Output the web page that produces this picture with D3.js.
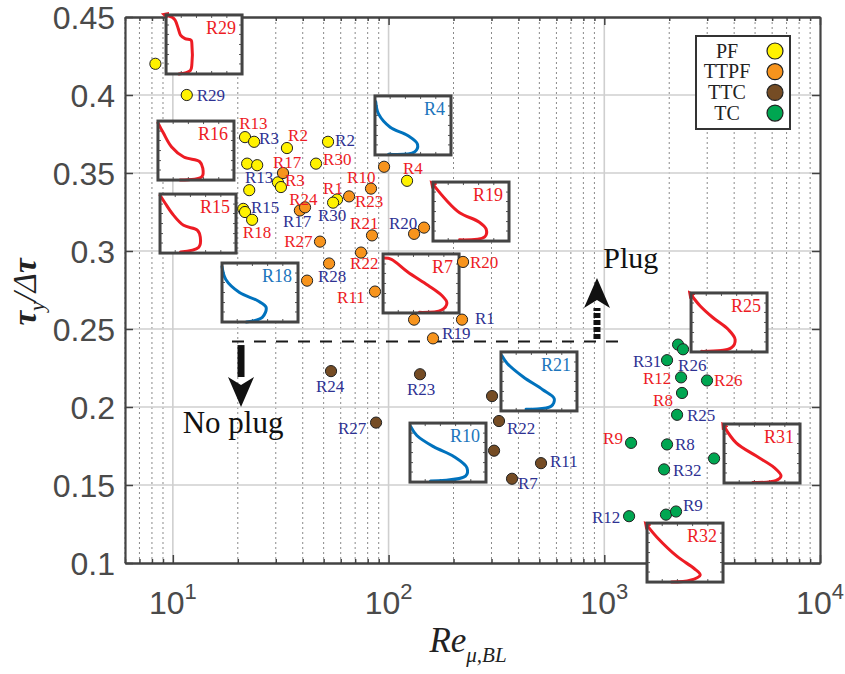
<!DOCTYPE html>
<html><head><meta charset="utf-8">
<script src="https://cdn.jsdelivr.net/npm/d3@7/dist/d3.min.js"></script>
<style>body{margin:0;background:#fff}svg{display:block}</style>
</head><body>
<svg id="chart" width="845" height="674"></svg>
<script>
// ---------------- data ----------------
const groupNames  = ["PF", "TTPF", "TTC", "TC"];
const groupColors = ["#fff200", "#f7941d", "#754c24", "#00a651"];

// Re_mu,BL and tau_y / delta-tau for each flow regime
const pfRe      = [8.3, 11.6, 21.6, 23.8, 33.8, 52.4, 22.1, 24.6, 46.1, 22.6, 30.7, 31.7, 57.7, 55.3, 121.8, 21.2, 21.6, 23.3];
const pfRatio   = [0.420, 0.400, 0.373, 0.370, 0.366, 0.370, 0.356, 0.355, 0.356, 0.339, 0.344, 0.341, 0.333, 0.331, 0.345, 0.327, 0.325, 0.320];
const ttpfRe    = [32.4, 38.8, 41.0, 48.1, 41.9, 53.0, 65.6, 82.9, 95.3, 83.8, 74.5, 86.5, 131.3, 146, 221.4, 131.3, 219, 160.7];
const ttpfRatio = [0.350, 0.326, 0.328, 0.306, 0.281, 0.292, 0.335, 0.340, 0.354, 0.310, 0.299, 0.274, 0.311, 0.315, 0.293, 0.256, 0.256, 0.244];
const ttcRe     = [54.1, 139.9, 87.5, 301.8, 325, 308.3, 509, 373.5];
const ttcRatio  = [0.223, 0.221, 0.190, 0.207, 0.191, 0.172, 0.164, 0.154];
const tcRe      = [2198, 2318, 1954, 2270, 2994, 2293, 2175, 1331, 1954, 3228, 1893, 1303, 1932, 2151];
const tcRatio   = [0.240, 0.237, 0.230, 0.219, 0.217, 0.209, 0.195, 0.177, 0.176, 0.167, 0.160, 0.130, 0.131, 0.133];

// run labels: text, colour key (r = red series, b = blue series), anchor (Re, ratio)
const labelText  = ["R29","R13","R3","R2","R2","R17","R30","R13","R3","R24","R1","R10","R4","R23","R15","R17","R30","R18","R27","R21","R20","R28","R22","R11","R20","R1","R19",
                    "R24","R23","R27","R22","R11","R7",
                    "R31","R26","R12","R26","R8","R25","R9","R8","R32","R12","R9"];
const labelColor = ["b","r","b","r","b","r","r","b","r","r","r","r","r","r","b","b","b","r","r","r","b","b","r","r","r","b","b",
                    "b","b","b","b","b","b",
                    "b","b","r","r","r","b","r","b","b","b","b"];
const labelRe    = [12.9, 20.3, 25.1, 34.2, 56.5, 29.1, 49.7, 21.6, 33.1, 34.6, 49.7, 64.2, 116.7, 69.9, 23.0, 32.4, 47.1, 21.1, 32.8, 66.3, 100.5, 47.1, 66.3, 57.7, 238.6, 251.6, 177,
                    46.1, 121.8, 58.3, 354.1, 560.4, 398.3,
                    1359, 2198, 1512, 3228, 1683, 2419, 987, 2128, 2084, 877.5, 2318];
const labelRatio = [0.400, 0.382, 0.372, 0.374, 0.371, 0.357, 0.359, 0.347, 0.345, 0.333, 0.340, 0.347, 0.353, 0.332, 0.328, 0.319, 0.323, 0.312, 0.306, 0.318, 0.318, 0.284, 0.292, 0.2705, 0.293, 0.257, 0.247,
                    0.213, 0.2115, 0.1865, 0.1865, 0.1654, 0.1513,
                    0.2295, 0.2269, 0.2186, 0.2173, 0.2045, 0.1949, 0.1801, 0.1763, 0.1596, 0.1295, 0.1372];

// velocity-profile insets: name, colour, top-left anchor (Re, ratio)
const insetNames = ["R29", "R16", "R15", "R18", "R4", "R19", "R7", "R21", "R10", "R25", "R31", "R32"];
const insetColor = ["r", "r", "r", "b", "b", "r", "r", "b", "b", "r", "r", "r"];
const insetRe    = [9.3, 8.53, 8.72, 16.9, 86.5, 160.7, 94.3, 332, 125.7, 2525, 3590, 1578];
const insetRatio = [0.4513, 0.3833, 0.3365, 0.2923, 0.3994, 0.3442, 0.2981, 0.2353, 0.1897, 0.2731, 0.1891, 0.1256];
const insetArrow = ["R29", "R19", "R25", "R31", "R32"];

// normalised profile shapes [u, depth] inside each inset
const profR29 = [[0.0,0.0],[0.08,0.04],[0.12,0.09],[0.16,0.23],[0.19,0.34],[0.25,0.40],[0.33,0.43],[0.34,0.5],[0.34,0.83],[0.32,0.94],[0.17,1.0]];
const profR16 = [[0.0,0.03],[0.07,0.2],[0.18,0.44],[0.34,0.61],[0.55,0.69],[0.59,0.8],[0.58,0.94],[0.29,1.0]];
const profR15 = [[0.0,0.02],[0.07,0.16],[0.16,0.33],[0.31,0.53],[0.49,0.61],[0.53,0.73],[0.51,0.9],[0.27,0.98]];
const profR18 = [[0.0,0.06],[0.05,0.28],[0.23,0.5],[0.47,0.64],[0.58,0.75],[0.53,0.92],[0.32,1.0]];
const profR4  = [[0.01,0.1],[0.045,0.3],[0.2,0.53],[0.43,0.67],[0.56,0.82],[0.52,0.95],[0.18,0.99]];
const profR19 = [[0.0,0.04],[0.17,0.3],[0.35,0.52],[0.61,0.68],[0.7,0.8],[0.68,0.93],[0.35,0.98]];
const profR7  = [[0.02,0.07],[0.11,0.09],[0.32,0.30],[0.59,0.53],[0.77,0.70],[0.84,0.83],[0.77,0.95],[0.48,0.99]];
const profR21 = [[0.01,0.06],[0.08,0.19],[0.29,0.42],[0.55,0.64],[0.7,0.79],[0.66,0.92],[0.33,0.97]];
const profR10 = [[0.01,0.06],[0.09,0.21],[0.31,0.4],[0.58,0.57],[0.75,0.76],[0.73,0.9],[0.27,0.98]];
const profR25 = [[0.0,0.03],[0.12,0.22],[0.29,0.42],[0.49,0.62],[0.58,0.79],[0.53,0.93],[0.14,0.99]];
const profR31 = [[0.0,0.04],[0.16,0.32],[0.42,0.54],[0.66,0.74],[0.75,0.88],[0.68,0.96],[0.38,0.99]];
const profR32 = [[0.0,0.04],[0.13,0.24],[0.4,0.57],[0.62,0.77],[0.7,0.88],[0.57,0.97],[0.32,1.0]];
const profiles = [profR29, profR16, profR15, profR18, profR4, profR19, profR7, profR21, profR10, profR25, profR31, profR32];

// axis ticks
const xMajor = [10, 100, 1000, 10000];
const yTicks = [0.1, 0.15, 0.2, 0.25, 0.3, 0.35, 0.4, 0.45];
const yTickLabels = ["0.1", "0.15", "0.2", "0.25", "0.3", "0.35", "0.4", "0.45"];

// plug / no-plug boundary and annotation anchors
const plugThreshold = 0.242;
const thresholdRe = [18.8, 1210];
const plugArrow = { re: 925, from: 0.2436, to: 0.2827 };
const noPlugArrow = { re: 20.7, from: 0.2397, to: 0.2 };
const plugText = { re: 990, ratio: 0.2891 };
const noPlugText = { re: 11.1, ratio: 0.1835 };

// ---------------- drawing ----------------
const svg = d3.select("#chart");
const L = 125, R = 820, T = 17, B = 563;
const x = d3.scaleLog().domain([6, 10000]).range([L, R]);
const y = d3.scaleLinear().domain([0.1, 0.45]).range([B, T]);

const RED = "#ed1c24", DBLUE = "#2e3192", IBLUE = "#0072bd", IBLUE_TXT = "#1c75bc";
const AXIS = "#434343";
const serif = "'Liberation Serif','Times New Roman',serif";
const sans = "'Liberation Sans',Arial,Helvetica,sans-serif";

const xMinor = [];
[1, 10, 100, 1000].forEach(d => { for (let k = 2; k <= 9; k++) { const v = k * d; if (v >= 6 && v < 10000) xMinor.push(v); } });

// grid
const grid = svg.append("g");
grid.selectAll(".gmin").data(xMinor).join("line")
  .attr("x1", d => x(d)).attr("x2", d => x(d)).attr("y1", T).attr("y2", B)
  .attr("stroke", "#8a8a8a").attr("stroke-width", 1).attr("stroke-dasharray", "2,3");
grid.selectAll(".gmaj").data(xMajor.slice(0, 3)).join("line")
  .attr("x1", d => x(d)).attr("x2", d => x(d)).attr("y1", T).attr("y2", B)
  .attr("stroke", "#cfcfcf").attr("stroke-width", 1.6);
grid.selectAll(".gy").data(yTicks.slice(1, -1)).join("line")
  .attr("x1", L).attr("x2", R).attr("y1", d => y(d)).attr("y2", d => y(d))
  .attr("stroke", "#cfcfcf").attr("stroke-width", 1.6);

// axes (ticks pointing inward)
function styleAxis(g) {
  g.select(".domain").attr("stroke", AXIS).attr("stroke-width", 2.2);
  g.selectAll(".tick line").attr("stroke", AXIS).attr("stroke-width", 1.5);
  g.selectAll(".tick text").remove();
}
svg.append("g").attr("transform", `translate(0,${B})`)
  .call(d3.axisBottom(x).tickValues(xMajor).tickSizeInner(-8).tickSizeOuter(0)).call(styleAxis);
svg.append("g").attr("transform", `translate(0,${B})`)
  .call(d3.axisBottom(x).tickValues(xMinor).tickSizeInner(-4).tickSizeOuter(0)).call(styleAxis);
svg.append("g").attr("transform", `translate(0,${T})`)
  .call(d3.axisTop(x).tickValues(xMajor).tickSizeInner(-8).tickSizeOuter(0)).call(styleAxis);
svg.append("g").attr("transform", `translate(0,${T})`)
  .call(d3.axisTop(x).tickValues(xMinor).tickSizeInner(-4).tickSizeOuter(0)).call(styleAxis);
svg.append("g").attr("transform", `translate(${L},0)`)
  .call(d3.axisLeft(y).tickValues(yTicks).tickSizeInner(-8).tickSizeOuter(0)).call(styleAxis);
svg.append("g").attr("transform", `translate(${R},0)`)
  .call(d3.axisRight(y).tickValues(yTicks).tickSizeInner(-8).tickSizeOuter(0)).call(styleAxis);

// tick labels
svg.append("g").selectAll("text").data(yTicks).join("text")
  .attr("x", L - 10).attr("y", d => y(d)).attr("dy", "0.36em")
  .attr("text-anchor", "end").attr("font-family", sans).attr("font-size", 32).attr("fill", "#4a4a4a")
  .text((d, i) => yTickLabels[i]);
const xl = svg.append("g").selectAll("text").data(xMajor).join("text")
  .attr("x", d => x(d)).attr("y", 614).attr("text-anchor", "middle")
  .attr("font-family", sans).attr("font-size", 32).attr("fill", "#4a4a4a");
xl.append("tspan").text("10");
xl.append("tspan").attr("font-size", 22).attr("dy", -15).text(d => Math.round(Math.log10(d)));

// axis titles
const xt = svg.append("text").attr("x", 468).attr("y", 652).attr("text-anchor", "middle")
  .attr("font-family", serif).attr("font-style", "italic").attr("font-size", 35).attr("fill", "#222");
xt.append("tspan").text("Re");
xt.append("tspan").attr("font-size", 21).attr("dy", 10).text("μ,BL");

const yt = svg.append("text").attr("transform", "translate(36,292) rotate(-90)").attr("text-anchor", "middle")
  .attr("font-family", serif).attr("font-style", "italic").attr("font-size", 33).attr("fill", "#222");
yt.append("tspan").attr("font-weight", "bold").text("τ");
yt.append("tspan").attr("font-size", 21).attr("dy", 8).text("y");
yt.append("tspan").attr("dy", -8).text("/Δ");
yt.append("tspan").attr("font-weight", "bold").text("τ");

// plug boundary
svg.append("line")
  .attr("x1", x(thresholdRe[0])).attr("x2", x(thresholdRe[1]))
  .attr("y1", y(plugThreshold)).attr("y2", y(plugThreshold))
  .attr("stroke", "#1a1a1a").attr("stroke-width", 2.2).attr("stroke-dasharray", "12,10");

// profile insets
const defs = svg.append("defs");
defs.append("marker").attr("id", "tip").attr("viewBox", "0 0 10 10").attr("refX", 3).attr("refY", 5)
  .attr("markerWidth", 2.6).attr("markerHeight", 2.6).attr("orient", "auto-start-reverse")
  .append("path").attr("d", "M0,0 L10,5 L0,10 z").attr("fill", RED);

const IW = 76, IH = 59;
const u = d3.scaleLinear().domain([0, 1]).range([0, IW]);
const v = d3.scaleLinear().domain([0, 1]).range([0, IH]);
const line = d3.line().x(p => u(p[0])).y(p => v(p[1])).curve(d3.curveCatmullRom.alpha(0.5));
insetNames.forEach((name, i) => {
  const g = svg.append("g").attr("transform", `translate(${x(insetRe[i])},${y(insetRatio[i])})`);
  g.append("rect").attr("width", IW).attr("height", IH).attr("fill", "#fff");
  const tg = g.append("g").attr("stroke", "#555").attr("stroke-width", 1);
  [0.2, 0.4, 0.6, 0.8].forEach(t => {
    tg.append("line").attr("x1", u(t)).attr("x2", u(t)).attr("y1", 0).attr("y2", 3);
    tg.append("line").attr("x1", u(t)).attr("x2", u(t)).attr("y1", IH).attr("y2", IH - 3);
  });
  [0.17, 0.33, 0.5, 0.67, 0.83].forEach(t => {
    tg.append("line").attr("x1", 0).attr("x2", 3).attr("y1", v(t)).attr("y2", v(t));
    tg.append("line").attr("x1", IW).attr("x2", IW - 3).attr("y1", v(t)).attr("y2", v(t));
  });
  const col = insetColor[i] === "r" ? RED : IBLUE;
  g.append("path").attr("d", line(profiles[i])).attr("fill", "none")
    .attr("stroke", col).attr("stroke-width", 3).attr("stroke-linecap", "round")
    .attr("marker-start", insetArrow.includes(name) ? "url(#tip)" : null);
  g.append("rect").attr("width", IW).attr("height", IH).attr("fill", "none")
    .attr("stroke", "#444").attr("stroke-width", 3);
  g.append("text").attr("x", IW - 6).attr("y", 13).attr("dy", "0.33em").attr("text-anchor", "end")
    .attr("font-family", serif).attr("font-size", 18)
    .attr("fill", insetColor[i] === "r" ? RED : IBLUE_TXT).text(name);
});

// data points
const series = [[pfRe, pfRatio], [ttpfRe, ttpfRatio], [ttcRe, ttcRatio], [tcRe, tcRatio]];
series.forEach(([res, ratios], gi) => {
  svg.append("g").selectAll("circle").data(res).join("circle")
    .attr("cx", d => x(d)).attr("cy", (d, i) => y(ratios[i])).attr("r", 5.6)
    .attr("fill", groupColors[gi]).attr("stroke", "#222").attr("stroke-width", 1);
});

// run labels
svg.append("g").selectAll("text").data(labelText).join("text")
  .attr("x", (d, i) => x(labelRe[i])).attr("y", (d, i) => y(labelRatio[i])).attr("dy", "0.33em")
  .attr("font-family", serif).attr("font-size", 17)
  .attr("fill", (d, i) => labelColor[i] === "r" ? RED : DBLUE).text(d => d);

// plug / no-plug arrows
function arrow(a, dashed) {
  const xa = x(a.re), y0 = y(a.from), y1 = y(a.to);
  const dir = Math.sign(y1 - y0), head = 30, hw = 13;
  svg.append("line").attr("x1", xa).attr("x2", xa).attr("y1", y0).attr("y2", y1 - dir * head)
    .attr("stroke", "#111").attr("stroke-width", 7).attr("stroke-dasharray", dashed ? "5,2" : null);
  svg.append("path")
    .attr("d", `M${xa},${y1} L${xa - hw},${y1 - dir * head} L${xa},${y1 - dir * (head - 8)} L${xa + hw},${y1 - dir * head} Z`)
    .attr("fill", "#111");
}
arrow(plugArrow, true);
arrow(noPlugArrow, false);
svg.append("text").attr("x", x(plugText.re)).attr("y", y(plugText.ratio))
  .attr("font-family", serif).attr("font-size", 30).attr("fill", "#111").text("Plug");
svg.append("text").attr("x", x(noPlugText.re)).attr("y", y(noPlugText.ratio))
  .attr("font-family", serif).attr("font-size", 31).attr("fill", "#111").text("No plug");

// legend
const lg = svg.append("g").attr("transform", "translate(696,36)");
lg.append("rect").attr("width", 94).attr("height", 93).attr("fill", "#fff").attr("stroke", "#333").attr("stroke-width", 2);
groupNames.forEach((n, i) => {
  const yy = 15 + i * 20.7;
  lg.append("text").attr("x", 31).attr("y", yy).attr("dy", "0.33em").attr("text-anchor", "middle")
    .attr("font-family", serif).attr("font-size", 20).attr("fill", "#222").text(n);
  lg.append("circle").attr("cx", 79).attr("cy", yy).attr("r", 8)
    .attr("fill", groupColors[i]).attr("stroke", "#222").attr("stroke-width", 1.2);
});
</script>
</body></html>
